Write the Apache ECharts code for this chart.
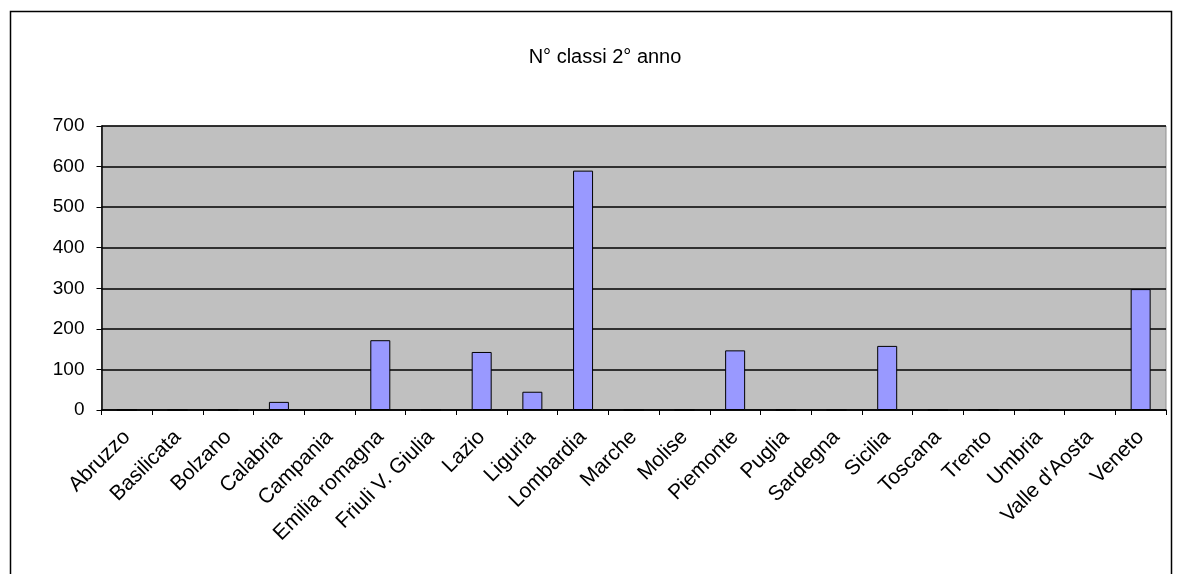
<!DOCTYPE html>
<html><head><meta charset="utf-8">
<script src="https://cdn.jsdelivr.net/npm/echarts@6/dist/echarts.min.js"></script>
<style>html,body{margin:0;padding:0;background:#fff}#c{width:1183px;height:574px}</style>
</head><body><div id="c"></div>
<script>
const categories = ["Abruzzo","Basilicata","Bolzano","Calabria","Campania","Emilia romagna","Friuli V. Giulia","Lazio","Liguria","Lombardia","Marche","Molise","Piemonte","Puglia","Sardegna","Sicilia","Toscana","Trento","Umbria","Valle d'Aosta","Veneto"];
const values = [0,0,0,20,0,172,0,143,45,590,0,0,147,0,0,158,0,0,0,0,298];
const yTicks = [0,100,200,300,400,500,600,700];
const titleText = "N° classi 2° anno";

const chart = echarts.init(document.getElementById('c'));
chart.setOption({
  animation: false,
  title: { text: titleText, left: 600, top: 42, textAlign: 'center',
    textStyle: { fontFamily: 'Liberation Sans', fontSize: 20, fontWeight: 'normal', color: '#000' } },
  graphic: [{ type: 'rect', shape: { x: 10.5, y: 11.5, width: 1161, height: 620 },
    style: { fill: 'none', stroke: '#000', lineWidth: 1.5 }, silent: true }],
  grid: { left: 101.5, right: 17, top: 126, bottom: 164, show: true, backgroundColor: '#C0C0C0',
    borderColor: '#909090', borderWidth: 1 },
  xAxis: { type: 'category', data: categories,
    axisLine: { lineStyle: { color: '#000', width: 1.5 } },
    axisTick: { show: true, alignWithLabel: false, length: 5, lineStyle: { color: '#000' } },
    axisLabel: { rotate: 45, interval: 0, margin: 24, fontFamily: 'Liberation Sans', fontSize: 21, color: '#000' } },
  yAxis: { type: 'value', min: 0, max: 700, interval: 100,
    axisLine: { show: true, lineStyle: { color: '#000', width: 1.5 } },
    axisTick: { show: true, length: 5, lineStyle: { color: '#000' } },
    axisLabel: { margin: 17, fontFamily: 'Liberation Sans', fontSize: 19, color: '#000',
      formatter: v => yTicks.includes(v) ? String(v) : '' },
    splitLine: { show: true, lineStyle: { color: '#000', width: 1.5 } } },
  series: [{ type: 'bar', data: values, barWidth: 20,
    itemStyle: { color: '#9999FF', borderColor: '#000', borderWidth: 1 } }]
});
</script></body></html>
